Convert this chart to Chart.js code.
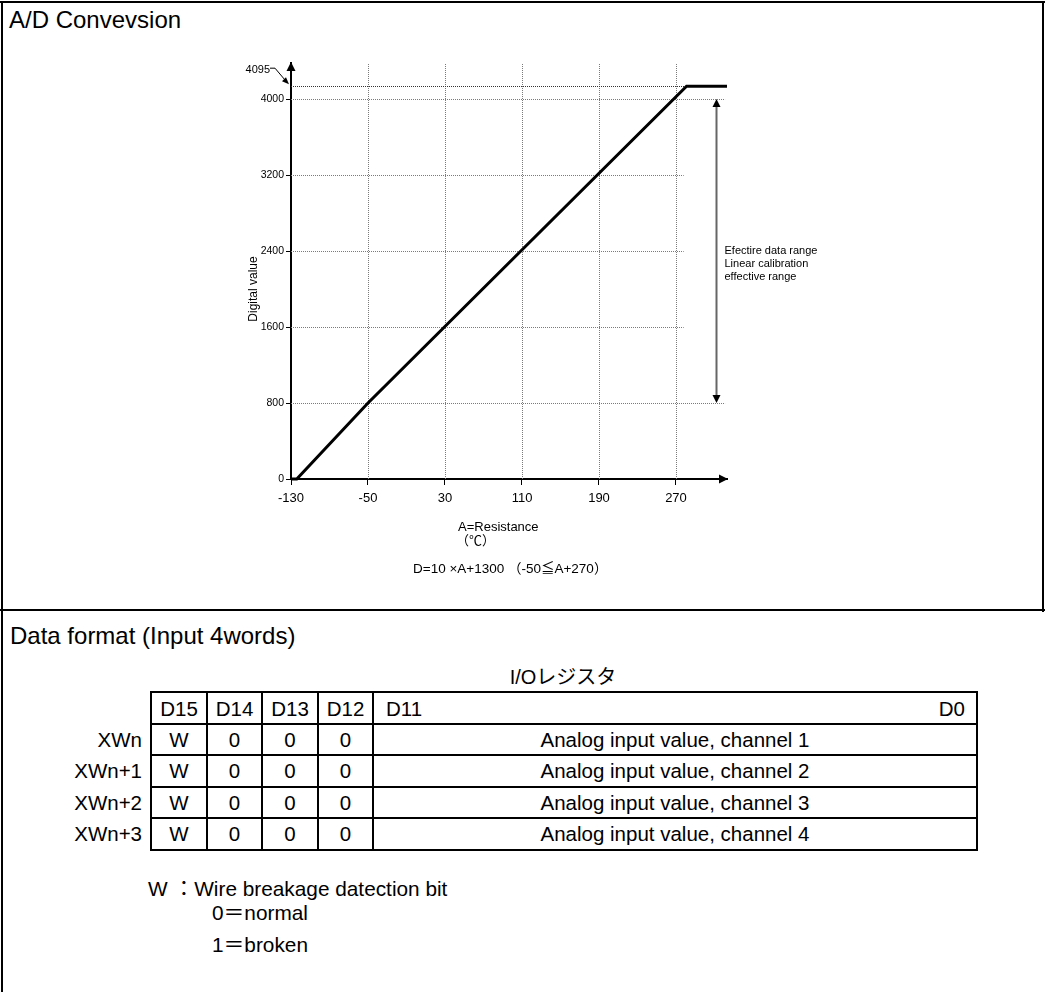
<!DOCTYPE html>
<html>
<head>
<meta charset="utf-8">
<script src="https://cdn.jsdelivr.net/npm/chart.js@4.4.1/dist/chart.umd.min.js"></script>
<style>
  body { margin: 0; background: #fff; }
  #page { position: relative; width: 1045px; height: 992px; overflow: hidden;
          font-family: 'Liberation Sans', Arial, 'Noto Sans CJK JP', sans-serif; color: #000; }
  .rule { position: absolute; background: #000; }
  .txt { position: absolute; white-space: nowrap; line-height: 1; }
  #chartBox { position: absolute; left: 0; top: 0; width: 1045px; height: 610px; }
  table.fmt { position: absolute; left: 150px; top: 691px; border-collapse: collapse; table-layout: fixed;
              font-size: 20.5px; }
  table.fmt td { border: 2px solid #000; padding: 0; text-align: center; vertical-align: middle; white-space: nowrap; }
  table.fmt tr.head td { vertical-align: bottom; padding-bottom: 2px; }
  .lab { position: absolute; width: 120px; left: 22px; text-align: right; font-size: 20.5px; line-height: 1; }
</style>
</head>
<body>
<div id="page">
  <div class="rule" style="left:0;top:1px;width:1045px;height:2px"></div>
  <div class="rule" style="left:1px;top:1px;width:2px;height:991px"></div>
  <div class="rule" style="left:1042px;top:1px;width:2px;height:611px"></div>
  <div class="rule" style="left:0;top:609px;width:1045px;height:2px"></div>

  <div class="txt" style="left:9px;top:8px;font-size:24px">A/D Convevsion</div>
  <div id="chartBox"><canvas id="adChart" width="1045" height="610"></canvas></div>

  <div class="txt" style="left:10px;top:624px;font-size:24px">Data format (Input 4words)</div>
  <div class="txt" style="left:0;width:1126px;text-align:center;top:667px;font-size:20px">I/Oレジスタ</div>
  <div id="tableHost"></div>

  <div class="txt" style="left:148px;top:879px;font-size:20.8px">W ：Wire breakage datection bit</div>
  <div class="txt" style="left:212px;top:903px;font-size:20.8px">0＝normal</div>
  <div class="txt" style="left:212px;top:935px;font-size:20.8px">1＝broken</div>
</div>

<script>
// chart values
const xTicks = [-130, -50, 30, 110, 190, 270];
const yTicks = [0, 800, 1600, 2400, 3200, 4000];
const curveX = [-130, -124, -50, 281, 323];
const curveY = [0, 0, 800, 4135, 4135];
const fullScaleMark = 4135;   // the "4095" dotted line as drawn
const rangeTop = 4000;
const rangeBottom = 800;
const xMin = -130, xMax = 323, yMin = 0, yMax = 4379;
const gridEnd = 278;          // short gridlines stop just past 270
const longGridEnd = 321;      // 800 / 4000 lines run under the range arrow
const rangeArrowX = 312;

// table contents
const bitHeads = ['D15', 'D14', 'D13', 'D12'];
const registers = ['XWn', 'XWn+1', 'XWn+2', 'XWn+3'];
const bitValues = ['W', '0', '0', '0'];
const channelTexts = ['Analog input value, channel 1', 'Analog input value, channel 2',
                      'Analog input value, channel 3', 'Analog input value, channel 4'];

const FONT = "'Liberation Sans', Arial, 'Noto Sans CJK JP', sans-serif";
Chart.defaults.font.family = FONT;

function buildTable() {
    const colW = [56, 55, 56, 55, 604];
    const rowH = [32, 31, 32, 31, 32];
    let html = '<table class="fmt"><colgroup>' + colW.map(w => `<col style="width:${w}px">`).join('') + '</colgroup>';
    html += `<tr class="head" style="height:${rowH[0]}px">` + bitHeads.map(h => `<td>${h}</td>`).join('') +
        '<td><span style="float:left;margin-left:12px">D11</span><span style="float:right;margin-right:11px">D0</span></td></tr>';
    registers.forEach((r, i) => {
        html += `<tr style="height:${rowH[i + 1]}px">` + bitValues.map(v => `<td>${v}</td>`).join('') +
            `<td>${channelTexts[i]}</td></tr>`;
    });
    html += '</table>';
    let top = 691 + rowH[0];
    registers.forEach((r, i) => {
        html += `<div class="lab" style="top:${top + rowH[i + 1] / 2 - 9}px">${r}</div>`;
        top += rowH[i + 1];
    });
    document.getElementById('tableHost').innerHTML = html;
}

function arrowHead(ctx, tipX, tipY, dir, len, half) {
    // dir: 'up' | 'down' | 'right'
    ctx.beginPath();
    ctx.moveTo(tipX, tipY);
    if (dir === 'up') { ctx.lineTo(tipX - half, tipY + len); ctx.lineTo(tipX + half, tipY + len); }
    if (dir === 'down') { ctx.lineTo(tipX - half, tipY - len); ctx.lineTo(tipX + half, tipY - len); }
    if (dir === 'right') { ctx.lineTo(tipX - len, tipY - half); ctx.lineTo(tipX - len, tipY + half); }
    ctx.closePath();
    ctx.fill();
}

const overlay = {
    id: 'overlay',
    beforeDatasetsDraw(chart) {
        const {ctx, scales: {x, y}, chartArea} = chart;
        const y0 = y.getPixelForValue(0);
        const x0 = x.getPixelForValue(xMin);
        ctx.save();
        ctx.lineWidth = 1;
        ctx.strokeStyle = '#7a7a7a';
        ctx.setLineDash([1, 1]);
        xTicks.slice(1).forEach(v => {
            const px = Math.round(x.getPixelForValue(v)) + 0.5;
            ctx.beginPath(); ctx.moveTo(px, y0); ctx.lineTo(px, chartArea.top + 1); ctx.stroke();
        });
        yTicks.slice(1).forEach(v => {
            const py = Math.round(y.getPixelForValue(v)) + 0.5;
            const end = (v === rangeTop || v === rangeBottom) ? longGridEnd : gridEnd;
            ctx.beginPath(); ctx.moveTo(x0, py); ctx.lineTo(x.getPixelForValue(end), py); ctx.stroke();
        });
        ctx.strokeStyle = '#333';
        const pf = Math.round(y.getPixelForValue(fullScaleMark)) + 0.5;
        ctx.beginPath(); ctx.moveTo(x0, pf); ctx.lineTo(x.getPixelForValue(curveX[3]), pf); ctx.stroke();
        ctx.restore();
    },
    afterDraw(chart) {
        const {ctx, scales: {x, y}, chartArea} = chart;
        const x0 = x.getPixelForValue(xMin);
        const y0 = y.getPixelForValue(0);
        ctx.save();
        ctx.fillStyle = '#000';
        // axis arrows
        arrowHead(ctx, x0, chartArea.top - 1, 'up', 9, 4.5);
        arrowHead(ctx, chartArea.right + 1, y0, 'right', 9, 4.5);

        // effective range double arrow
        const ax = Math.round(x.getPixelForValue(rangeArrowX)) + 0.5;
        const yTop = y.getPixelForValue(rangeTop);
        const yBot = y.getPixelForValue(rangeBottom);
        ctx.strokeStyle = '#666';
        ctx.lineWidth = 2;
        ctx.beginPath(); ctx.moveTo(ax, yTop + 6); ctx.lineTo(ax, yBot - 6); ctx.stroke();
        arrowHead(ctx, ax, yTop, 'up', 8, 4);
        arrowHead(ctx, ax, yBot, 'down', 8, 4);

        // 4095 leader
        const pf = y.getPixelForValue(fullScaleMark);
        ctx.strokeStyle = '#000';
        ctx.lineWidth = 1;
        ctx.beginPath();
        ctx.moveTo(x0 - 21, pf - 18); ctx.lineTo(x0 - 16, pf - 18); ctx.lineTo(x0 - 5, pf - 5);
        ctx.stroke();
        ctx.beginPath();
        ctx.moveTo(x0 - 2, pf - 2); ctx.lineTo(x0 - 9, pf - 5); ctx.lineTo(x0 - 5, pf - 9); ctx.closePath(); ctx.fill();

        ctx.font = '11px ' + FONT;
        ctx.textBaseline = 'middle';
        ctx.textAlign = 'right';
        ctx.fillText('4095', x0 - 21, pf - 16);

        ctx.textAlign = 'left';
        const tx = ax + 8;
        const tyMid = y.getPixelForValue(2400);
        ctx.fillText('Efectire data range', tx, tyMid);
        ctx.fillText('Linear calibration', tx, tyMid + 13);
        ctx.fillText('effective range', tx, tyMid + 26);

        // axis titles and formula
        ctx.font = '12px ' + FONT;
        ctx.save();
        ctx.translate(x0 - 37, 289);
        ctx.rotate(-Math.PI / 2);
        ctx.textAlign = 'center';
        ctx.fillText('Digital value', 0, 0);
        ctx.restore();

        ctx.textAlign = 'left';
        ctx.font = '13px ' + FONT;
        ctx.fillText('A=Resistance', 458, y0 + 48);
        ctx.fillText('（℃）', 456, y0 + 62);
        ctx.font = '13.5px ' + FONT;
        ctx.fillText('D=10 ×A+1300 （-50≦A+270）', 413, y0 + 90);
        ctx.restore();
    }
};

function createChart() {
    const ctx = document.getElementById('adChart').getContext('2d');
    new Chart(ctx, {
        type: 'line',
        data: {
            datasets: [{
                data: curveX.map((v, i) => ({x: v, y: curveY[i]})),
                borderColor: '#000',
                borderWidth: 3,
                pointRadius: 0,
                tension: 0,
                fill: false,
                clip: false
            }]
        },
        options: {
            responsive: false,
            animation: false,
            events: [],
            layout: {padding: {left: 251, top: 63, right: 318, bottom: 91}},
            plugins: {legend: {display: false}, tooltip: {enabled: false}},
            scales: {
                x: {
                    type: 'linear',
                    min: xMin,
                    max: xMax,
                    afterBuildTicks: s => { s.ticks = xTicks.map(v => ({value: v})); },
                    afterFit: s => { s.height = 40; },
                    grid: {drawOnChartArea: false, tickLength: 6, color: '#000'},
                    border: {color: '#000', width: 2},
                    ticks: {color: '#000', font: {size: 13}, padding: 6, autoSkip: false, maxRotation: 0,
                            callback: v => String(v)}
                },
                y: {
                    type: 'linear',
                    min: yMin,
                    max: yMax,
                    afterBuildTicks: s => { s.ticks = yTicks.map(v => ({value: v})); },
                    afterFit: s => { s.width = 40; },
                    grid: {drawOnChartArea: false, tickLength: 5, color: '#000'},
                    border: {color: '#000', width: 2},
                    ticks: {color: '#000', font: {size: 10.5}, padding: 2, callback: v => String(v)}
                }
            }
        },
        plugins: [overlay]
    });
}

buildTable();
createChart();
</script>
</body>
</html>
